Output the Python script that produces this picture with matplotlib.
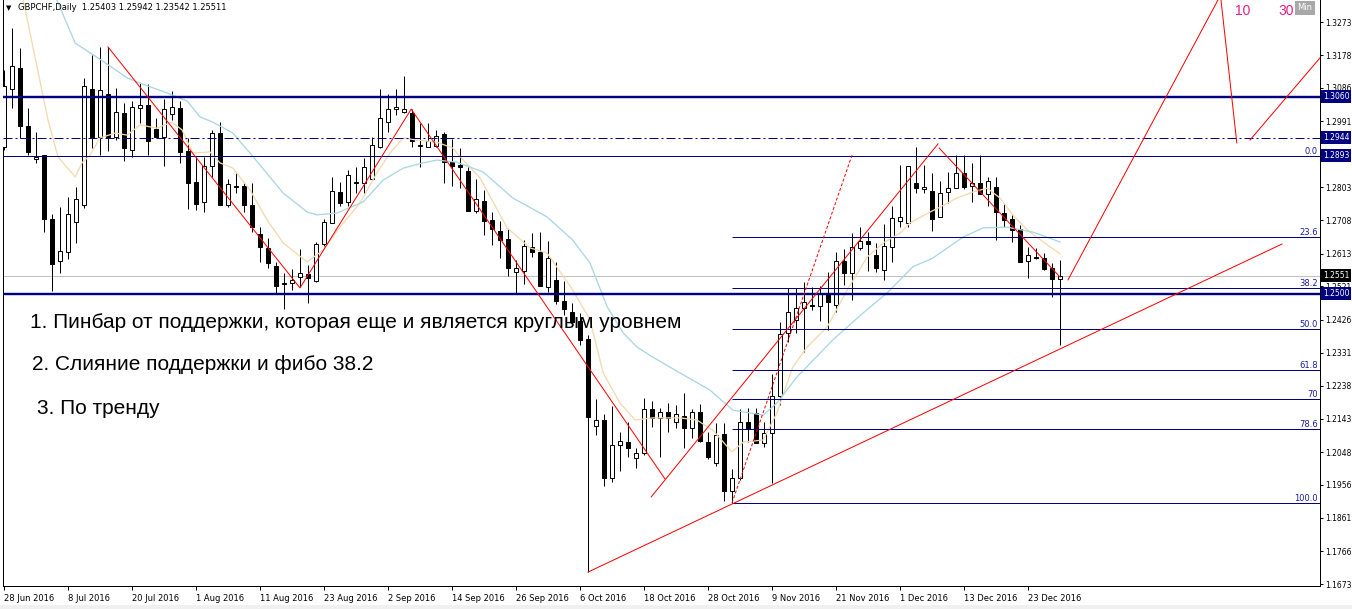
import matplotlib
matplotlib.use("Agg")
import matplotlib.pyplot as plt
from matplotlib.patches import Rectangle
import numpy as np

W, H, DPI = 1352, 609, 100

# ---------------- data ----------------
header = "GBPCHF,Daily  1.25403 1.25942 1.23542 1.25511"

opens = [1.2917, 1.3082, 1.3142, 1.2977, 1.2883, 1.2894, 1.2712, 1.2593, 1.2618, 1.2704,
         1.2752, 1.3082, 1.2946, 1.3068, 1.2946, 1.3014, 1.2909, 1.3028, 1.3037, 1.2968,
         1.2946, 1.3011, 1.3028, 1.2906, 1.2818, 1.2761, 1.2863, 1.2957, 1.2752, 1.2806,
         1.2806, 1.2752, 1.2670, 1.2630, 1.2578, 1.2530, 1.2530, 1.2547, 1.2556, 1.2536,
         1.2641, 1.2701, 1.2789, 1.2761, 1.2818, 1.2815, 1.2826, 1.2917, 1.2988, 1.3025,
         1.3017, 1.3014, 1.2920, 1.2917, 1.2920, 1.2954, 1.2874, 1.2866, 1.2849, 1.2735,
         1.2763, 1.2709, 1.2678, 1.2655, 1.2561, 1.2564, 1.2632, 1.2618, 1.2519, 1.2539,
         1.2479, 1.2447, 1.2422, 1.2371, 1.2123, 1.2140, 1.1975, 1.2069, 1.2077, 1.2032,
         1.2046, 1.2171, 1.2146, 1.2163, 1.2134, 1.2151, 1.2117, 1.2163, 1.2077, 1.2018,
         1.2100, 1.1938, 1.1975, 1.2134, 1.2160, 1.2075, 1.2103, 1.2208, 1.2388, 1.2425,
         1.2459, 1.2467, 1.2465, 1.2499, 1.2467, 1.2593, 1.2558, 1.2630, 1.2650, 1.2610,
         1.2567, 1.2632, 1.2707, 1.2701, 1.2815, 1.2798, 1.2792, 1.2718, 1.2789, 1.2800,
         1.2843, 1.2806, 1.2815, 1.2783, 1.2803, 1.2729, 1.2712, 1.2684, 1.2593, 1.2604,
         1.2601, 1.2573, 1.25403]
highs = [1.3136, 1.3256, 1.3199, 1.3028, 1.2960, 1.2894, 1.2726, 1.2746, 1.2775, 1.2803,
         1.3114, 1.3179, 1.3202, 1.3202, 1.3085, 1.3042, 1.3048, 1.3099, 1.3097, 1.3000,
         1.3054, 1.3077, 1.3048, 1.2943, 1.2889, 1.2889, 1.2966, 1.2988, 1.2826, 1.2843,
         1.2815, 1.2815, 1.2689, 1.2658, 1.2590, 1.2558, 1.2570, 1.2627, 1.2581, 1.2647,
         1.2712, 1.2832, 1.2818, 1.2852, 1.2860, 1.2886, 1.2946, 1.3082, 1.3068, 1.3082,
         1.3119, 1.3025, 1.2986, 1.2986, 1.2966, 1.2960, 1.2940, 1.2914, 1.2860, 1.2826,
         1.2795, 1.2732, 1.2707, 1.2684, 1.2595, 1.2652, 1.2672, 1.2675, 1.2650, 1.2590,
         1.2536, 1.2473, 1.2445, 1.2382, 1.2200, 1.2157, 1.2180, 1.2106, 1.2134, 1.2060,
         1.2203, 1.2194, 1.2174, 1.2188, 1.2183, 1.2217, 1.2171, 1.2186, 1.2106, 1.2131,
         1.2131, 1.2000, 1.2171, 1.2174, 1.2174, 1.2134, 1.2271, 1.2419, 1.2516, 1.2516,
         1.2533, 1.2519, 1.2521, 1.2561, 1.2618, 1.2627, 1.2672, 1.2689, 1.2675, 1.2644,
         1.2698, 1.2749, 1.2866, 1.2863, 1.2917, 1.2866, 1.2843, 1.2820, 1.2846, 1.2894,
         1.2894, 1.2872, 1.2894, 1.2832, 1.2832, 1.2755, 1.2724, 1.2695, 1.2632, 1.2630,
         1.2615, 1.2587, 1.25942]
lows = [1.2909, 1.3028, 1.2943, 1.2894, 1.2872, 1.2675, 1.2507, 1.2558, 1.2598, 1.2644,
        1.2744, 1.2914, 1.2894, 1.2906, 1.2937, 1.2877, 1.2889, 1.2986, 1.2894, 1.2946,
        1.2863, 1.2994, 1.2872, 1.2741, 1.2738, 1.2732, 1.2832, 1.2752, 1.2746, 1.2786,
        1.2732, 1.2675, 1.2590, 1.2573, 1.2499, 1.2456, 1.2510, 1.2519, 1.2473, 1.2533,
        1.2635, 1.2701, 1.2749, 1.2749, 1.2786, 1.2786, 1.2823, 1.2914, 1.2960, 1.3008,
        1.3014, 1.2917, 1.2860, 1.2917, 1.2917, 1.2815, 1.2806, 1.2800, 1.2735, 1.2729,
        1.2667, 1.2638, 1.2601, 1.2550, 1.2502, 1.2527, 1.2604, 1.2521, 1.2504, 1.2470,
        1.2439, 1.2410, 1.2353, 1.1707, 1.2097, 1.1952, 1.1963, 1.1995, 1.2035, 1.2003,
        1.2040, 1.2120, 1.2035, 1.2106, 1.2117, 1.2060, 1.2089, 1.2077, 1.2029, 1.2009,
        1.1909, 1.1904, 1.1969, 1.2077, 1.2075, 1.2063, 1.1961, 1.2183, 1.2362, 1.2388,
        1.2334, 1.2453, 1.2422, 1.2396, 1.2447, 1.2524, 1.2482, 1.2624, 1.2564, 1.2561,
        1.2539, 1.2590, 1.2689, 1.2689, 1.2786, 1.2786, 1.2678, 1.2718, 1.2758, 1.2800,
        1.2798, 1.2761, 1.2783, 1.2749, 1.2652, 1.2689, 1.2647, 1.2590, 1.2544, 1.2598,
        1.2567, 1.2490, 1.23542]
closes = [1.3091, 1.3148, 1.2977, 1.2903, 1.2889, 1.2712, 1.2584, 1.2621, 1.2726, 1.2769,
          1.3091, 1.2946, 1.3079, 1.2946, 1.3017, 1.2914, 1.3031, 1.3037, 1.2934, 1.2946,
          1.3025, 1.3031, 1.2903, 1.2815, 1.2755, 1.2863, 1.2957, 1.2752, 1.2812, 1.2803,
          1.2752, 1.2689, 1.2632, 1.2587, 1.2521, 1.2527, 1.2539, 1.2558, 1.2544, 1.2641,
          1.2704, 1.2792, 1.2758, 1.2837, 1.2815, 1.2860, 1.2923, 1.3000, 1.3025, 1.3031,
          1.3025, 1.2934, 1.2923, 1.2934, 1.2948, 1.2874, 1.2863, 1.2860, 1.2735, 1.2769,
          1.2707, 1.2684, 1.2652, 1.2573, 1.2573, 1.2635, 1.2618, 1.2521, 1.2601, 1.2479,
          1.2456, 1.2419, 1.2368, 1.2148, 1.2140, 1.1975, 1.2069, 1.2080, 1.2060, 1.2046,
          1.2171, 1.2146, 1.2163, 1.2146, 1.2157, 1.2117, 1.2163, 1.2080, 1.2035, 1.2097,
          1.1938, 1.1975, 1.2134, 1.2114, 1.2075, 1.2103, 1.2208, 1.2385, 1.2447, 1.2459,
          1.2476, 1.2465, 1.2502, 1.2476, 1.2593, 1.2558, 1.2632, 1.2650, 1.2641, 1.2573,
          1.2635, 1.2715, 1.2718, 1.2863, 1.2800, 1.2803, 1.2712, 1.2786, 1.2800, 1.2843,
          1.2803, 1.2815, 1.2783, 1.2820, 1.2732, 1.2709, 1.2681, 1.2590, 1.2610, 1.2601,
          1.2570, 1.2541, 1.25511]

# moving averages (10 and 30) at sample bars
ma10_bar = [1.0, 2.4, 5.5, 6.75, 8.9, 9.75, 10.75, 12, 13.9, 15.4, 17, 19.1, 21, 22.25, 23.6,
            25.75, 27, 28.6, 30.75, 32.9, 34.9, 37.9, 39.9, 42, 44.5, 46.6, 48.25, 49.9, 51.6,
            54.1, 56.1, 57.4, 59.5, 62.9, 65.75, 67.9, 71.1, 73.25, 74.9, 77, 78.9, 81.1, 84.5,
            86.6, 88.6, 91, 92.4, 94.9, 96.6, 98.6, 100.4, 102.9, 105.4, 107.9, 109.9, 112,
            113.25, 115.75, 117, 119.1, 121.1, 122.9, 124.5, 126.1, 127.9, 129.9, 132]
ma10_val = [1.3478, 1.3336, 1.2994, 1.2889, 1.2832, 1.2872, 1.2894, 1.2943, 1.2957, 1.2951,
            1.2980, 1.2971, 1.2988, 1.2966, 1.2900, 1.2903, 1.2872, 1.2857, 1.2795, 1.2709,
            1.2644, 1.2590, 1.2624, 1.2689, 1.2758, 1.2843, 1.2900, 1.2943, 1.2937, 1.2931,
            1.2914, 1.2880, 1.2829, 1.2687, 1.2630, 1.2615, 1.2510, 1.2425, 1.2274, 1.2188,
            1.2140, 1.2146, 1.2146, 1.2140, 1.2111, 1.2049, 1.2077, 1.2083, 1.2160, 1.2291,
            1.2348, 1.2405, 1.2510, 1.2604, 1.2644, 1.2672, 1.2701, 1.2732, 1.2746, 1.2772,
            1.2789, 1.2800, 1.2772, 1.2724, 1.2681, 1.2647, 1.2613]
ma30_bar = [5.1, 6.6, 8.9, 11.6, 15.4, 17, 20.4, 22.9, 24.5, 26.1, 28.6, 30.75, 34.9, 37.9,
            39.1, 41.6, 44.9, 47.4, 49.9, 52.4, 54.1, 56.6, 59.9, 63.6, 67.9, 71.1, 73.25,
            75.4, 77.4, 79.1, 81.1, 84.5, 88.25, 91.1, 94.9, 96.6, 99.1, 103.6, 107.4, 110.4,
            113.6, 116.1, 119.9, 122.4, 125.4, 128.6, 132]
ma30_val = [1.3421, 1.3336, 1.3213, 1.3173, 1.3114, 1.3099, 1.3071, 1.3048, 1.3003, 1.2988,
            1.2957, 1.2900, 1.2786, 1.2732, 1.2724, 1.2729, 1.2761, 1.2823, 1.2857, 1.2872,
            1.2880, 1.2874, 1.2846, 1.2772, 1.2718, 1.2652, 1.2587, 1.2462, 1.2388, 1.2348,
            1.2319, 1.2274, 1.2225, 1.2168, 1.2154, 1.2188, 1.2262, 1.2368, 1.2445, 1.2502,
            1.2576, 1.2601, 1.2661, 1.2687, 1.2689, 1.2675, 1.2647]

# drawn objects (bar index, price)
zigzag_bar = [13, 37, 50.9, 82.6]
zigzag_val = [1.3202, 1.2516, 1.3025, 1.1973]
upleg_bar = [80.9, 116.75]
upleg_val = [1.1921, 1.2926]
downleg_bar = [116.9, 132]
downleg_val = [1.2914, 1.2547]
proj1_bar = [133, 152.06, 154.1]
proj1_val = [1.2539, 1.3349, 1.2929]
proj2_bar = [155.75, 166]
proj2_val = [1.2937, 1.3211]
dashed_bar = [91, 106]
dashed_val = [1.1904, 1.2894]
trend_bar = [73, 159.75]
trend_val = [1.1707, 1.2641]

thick_levels = [1.3060, 1.2500]
dashdot_level = 1.2944
thin_level = 1.2893
bid_level = 1.2551

fib_start_bar = 91
fib_high = 1.2893
fib_low = 1.1904
fib_ratios = [0.0, 23.6, 38.2, 50.0, 61.8, 70.0, 78.6, 100.0]
fib_labels = ["0.0", "23.6", "38.2", "50.0", "61.8", "70", "78.6", "100.0"]

price_boxes = [1.3060, 1.2944, 1.2893, 1.2551, 1.2500]
price_box_colors = ["#000080", "#000080", "#000080", "#000000", "#000080"]

y_ticks = [1.3273, 1.3178, 1.3086, 1.2991, 1.2896, 1.2803, 1.2708, 1.2613, 1.2521, 1.2426,
           1.2331, 1.2238, 1.2143, 1.2048, 1.1956, 1.1861, 1.1766, 1.1673]
x_tick_bars = [0, 8, 16, 24, 32, 40, 48, 56, 64, 72, 80, 88, 96, 104, 112, 120, 128]
x_tick_labels = ["28 Jun 2016", "8 Jul 2016", "20 Jul 2016", "1 Aug 2016", "11 Aug 2016",
                 "23 Aug 2016", "2 Sep 2016", "14 Sep 2016", "26 Sep 2016", "6 Oct 2016",
                 "18 Oct 2016", "28 Oct 2016", "9 Nov 2016", "21 Nov 2016", "1 Dec 2016",
                 "13 Dec 2016", "23 Dec 2016"]

notes = ["1. Пинбар от поддержки, которая еще и является круглым уровнем",
         "2. Слияние поддержки и фибо 38.2",
         "3. По тренду"]

# ---------------- figure ----------------
fig = plt.figure(figsize=(W / DPI, H / DPI), dpi=DPI, facecolor="white")
L, R, T, B = 3, 1320, 0, 586
ax = fig.add_axes([L / W, (H - B) / H, (R - L) / W, (B - T) / H])
ax.set_xlim(-0.125, 164.5)
ax.set_ylim(1.16674, 1.33357)
ax.set_facecolor("white")

NAVY = "#000080"
PX = 72.0 / DPI

# candles
xb = np.arange(len(opens))
o = np.array(opens); c = np.array(closes); hi = np.array(highs); lo = np.array(lows)
bull = c >= o
ax.vlines(xb, lo, hi, color="black", lw=1.0 * PX, zorder=3)
bottom = np.minimum(o, c)
height = np.abs(c - o)
ax.bar(xb[bull], height[bull], bottom=bottom[bull], width=0.62, color="white",
       edgecolor="black", lw=1.0 * PX, zorder=4)
ax.bar(xb[~bull], height[~bull], bottom=bottom[~bull], width=0.62, color="black",
       edgecolor="black", lw=1.0 * PX, zorder=4)

# moving averages
ax.plot(ma10_bar, ma10_val, color="#F3D9AE", lw=1.3 * PX, zorder=5)
ax.plot(ma30_bar, ma30_val, color="#A9D6E3", lw=1.3 * PX, zorder=5)

# horizontal levels
for lv in thick_levels:
    ax.axhline(lv, color=NAVY, lw=2.4 * PX, zorder=6)
ax.axhline(dashdot_level, color=NAVY, lw=1.0 * PX, zorder=6, dashes=(9, 3, 2, 3))
ax.axhline(thin_level, color=NAVY, lw=1.0 * PX, zorder=6)
ax.axhline(bid_level, color="#C0C0C0", lw=1.0 * PX, zorder=2)

# fibonacci
for r, lab in zip(fib_ratios, fib_labels):
    lv = fib_high - (fib_high - fib_low) * r / 100.0
    ax.hlines(lv, fib_start_bar, 164.5, color=NAVY, lw=1.0 * PX, zorder=6)
    ax.text(164.25, lv, lab, ha="right", va="bottom", fontsize=6, color="#1c1c9c",
            family="DejaVu Sans", zorder=7)

# red drawings
for bx, bv in [(zigzag_bar, zigzag_val), (upleg_bar, upleg_val), (downleg_bar, downleg_val),
               (proj1_bar, proj1_val), (proj2_bar, proj2_val), (trend_bar, trend_val)]:
    ax.plot(bx, bv, color="red", lw=1.0 * PX, zorder=7)
ax.plot(dashed_bar, dashed_val, color="red", lw=1.0 * PX, zorder=7, dashes=(3, 2))

# axes styling
ax.spines["top"].set_visible(False)
for s in ["left", "bottom", "right"]:
    ax.spines[s].set_color("black")
    ax.spines[s].set_linewidth(1.0 * PX)
ax.yaxis.tick_right()
ax.set_yticks(y_ticks)
ax.set_yticklabels([f"{v:.4f}" for v in y_ticks])
ax.tick_params(axis="y", direction="out", length=3 * PX, width=PX, labelsize=5.5,
               pad=1.5, colors="black")
ax.set_xticks(x_tick_bars)
ax.set_xticklabels(x_tick_labels)
ax.tick_params(axis="x", direction="out", length=4 * PX, width=PX, labelsize=6, pad=3)
for t in ax.get_xticklabels():
    t.set_ha("left")
    t.set_family("DejaVu Sans")
for t in ax.get_yticklabels():
    t.set_family("DejaVu Sans")

# price boxes on the right axis
ytr = ax.get_yaxis_transform()
for v, col in zip(price_boxes, price_box_colors):
    ax.annotate(f"{v:.4f}", xy=(1.0, v), xycoords=ytr, xytext=(2.0, 0),
                textcoords="offset points", ha="left", va="center", fontsize=5.5,
                color="white", family="DejaVu Sans", annotation_clip=False, zorder=20,
                bbox=dict(boxstyle="square,pad=0.25", fc=col, ec="none"))


def fx(px):
    return px / W


def fy(py):
    return 1 - py / H


# header
fig.text(fx(6), fy(8), "\u25BC", fontsize=5, ha="left", va="center", color="black",
         family="DejaVu Sans")
fig.text(fx(18), fy(8), header, fontsize=6, ha="left", va="center", color="black",
         family="DejaVu Sans")

# MA period labels and Min box
fig.text(fx(1235), fy(11), "10", fontsize=10, ha="left", va="center", color="#E0208A",
         family="Liberation Sans")
fig.text(fx(1278), fy(11), "30", fontsize=10, ha="left", va="center", color="#E0208A",
         family="Liberation Sans")
fig.text(fx(1305), fy(8), "Min", fontsize=6, ha="center", va="center", color="white",
         family="DejaVu Sans",
         bbox=dict(boxstyle="square,pad=0.35", fc="#A8A8A8", ec="none"))

# annotations
fig.text(fx(30), fy(323), notes[0], fontsize=15.05, ha="left", va="center", color="black",
         family="Liberation Sans")
fig.text(fx(32), fy(364), notes[1], fontsize=15.05, ha="left", va="center", color="black",
         family="Liberation Sans")
fig.text(fx(37), fy(409), notes[2], fontsize=15.05, ha="left", va="center", color="black",
         family="Liberation Sans")

# bottom strip
fig.patches.append(Rectangle((0, 0), 1, 4 / H, transform=fig.transFigure,
                             fc="#F0F0F0", ec="none"))

fig.savefig("out.png", dpi=DPI, facecolor="white")
